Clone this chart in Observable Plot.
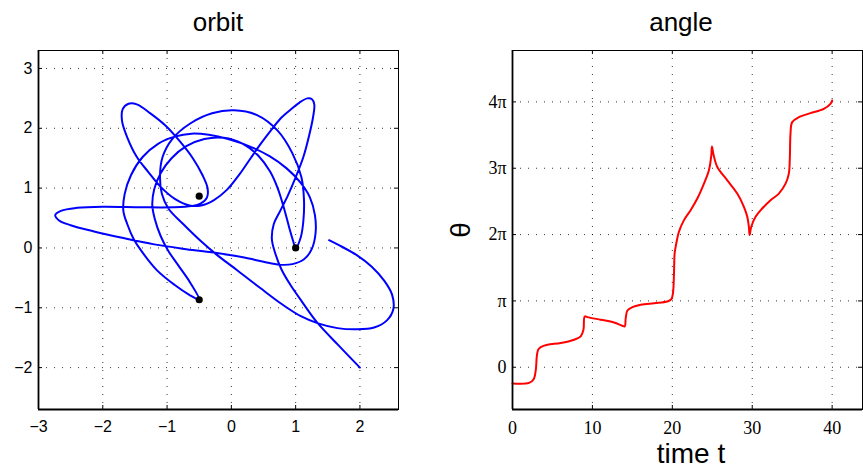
<!DOCTYPE html>
<html>
<head>
<meta charset="utf-8">
<script src="https://cdn.jsdelivr.net/npm/d3@7"></script>
<script src="https://cdn.jsdelivr.net/npm/@observablehq/plot@0.6"></script>
<style>
  body { margin: 0; background: #fff; }
  #root { position: relative; width: 863px; height: 468px; overflow: hidden; background: #fff; }
  .lbl { position: absolute; white-space: nowrap; color: #000; line-height: 1; }
</style>
</head>
<body>
<div id="root"></div>
<script>
// ---------- data ----------
const orbitXTicks = [-3, -2, -1, 0, 1, 2];
const orbitYTicks = [-2, -1, 0, 1, 2, 3];
const starX = [1, -0.5, -0.5];
const starY = [0, 0.866, -0.866];

// traced orbit (x, y) in drawing order, from (2,-2) to the end near (1.5, 0.13)
const orbit = [
  [2.00,-2.00],[1.66,-1.62],[1.33,-1.24],[1.10,-0.90],[0.92,-0.62],[0.78,-0.36],[0.68,-0.08],[0.63,0.15],
  [0.66,0.40],[0.76,0.62],[0.88,0.88],[1.00,1.18],[1.12,1.52],[1.21,1.88],[1.27,2.18],[1.29,2.40],
  [1.25,2.49],[1.18,2.50],[1.06,2.43],[0.92,2.31],[0.78,2.18],[0.64,2.00],[0.47,1.76],[0.30,1.50],
  [0.12,1.22],[-0.07,0.97],[-0.27,0.80],[-0.47,0.71],[-0.65,0.71],
  [-0.88,0.82],[-1.10,1.02],[-1.30,1.28],[-1.47,1.52],[-1.62,1.85],[-1.70,2.12],[-1.69,2.32],[-1.60,2.41],
  [-1.47,2.40],[-1.26,2.25],[-1.03,2.05],[-0.80,1.78],[-0.60,1.50],[-0.45,1.22],[-0.37,1.00],[-0.38,0.84],
  [-0.48,0.74],[-0.62,0.70],
  [-0.90,0.68],[-1.40,0.68],[-2.00,0.69],[-2.40,0.67],[-2.65,0.62],[-2.74,0.55],[-2.68,0.46],[-2.50,0.38],
  [-2.15,0.28],[-1.70,0.17],[-1.20,0.06],[-0.70,-0.02],[-0.20,-0.09],[0.20,-0.16],[0.50,-0.23],[0.75,-0.28],
  [0.95,-0.27],[1.13,-0.19],[1.25,-0.02],[1.31,0.25],[1.30,0.55],[1.22,0.85],[1.07,1.10],[0.86,1.33],
  [0.60,1.53],[0.30,1.69],[-0.05,1.82],[-0.35,1.89],[-0.62,1.91],[-0.88,1.86],[-1.14,1.74],[-1.38,1.52],
  [-1.56,1.22],[-1.66,0.90],[-1.68,0.62],[-1.62,0.40],[-1.52,0.15],[-1.40,-0.05],[-1.16,-0.37],[-0.88,-0.62],
  [-0.66,-0.78],[-0.50,-0.866],
  [-0.64,-0.58],[-0.82,-0.30],[-0.98,-0.05],[-1.10,0.20],[-1.19,0.48],[-1.23,0.72],[-1.20,0.98],[-1.10,1.25],
  [-0.93,1.50],[-0.70,1.70],[-0.42,1.82],[-0.12,1.84],[0.18,1.74],[0.42,1.54],[0.60,1.28],[0.72,1.00],
  [0.82,0.66],[0.90,0.34],[0.96,0.12],[1.00,0.00],
  [1.08,0.18],[1.12,0.45],[1.13,0.80],[1.09,1.18],[0.95,1.58],[0.72,1.96],[0.40,2.22],[0.04,2.30],
  [-0.30,2.25],[-0.64,2.08],[-0.92,1.82],[-1.07,1.52],[-1.11,1.20],[-1.08,0.90],[-0.98,0.66],[-0.75,0.40],
  [-0.48,0.12],[-0.22,-0.12],[0.10,-0.38],[0.45,-0.67],[0.80,-0.95],[1.08,-1.14],[1.35,-1.26],[1.65,-1.34],
  [1.95,-1.36],[2.22,-1.33],[2.42,-1.21],[2.52,-1.02],[2.50,-0.78],[2.38,-0.55],[2.18,-0.31],[1.95,-0.12],
  [1.72,0.02],[1.52,0.13]
];

const timeTicks = [0, 10, 20, 30, 40];
const angleTicks = [0, 1, 2, 3, 4];            // multiples of pi
const angleTickLabels = ["0", "π", "2π", "3π", "4π"];
const thetaT = [0, 2.08, 2.63, 2.92, 3.04, 3.21, 3.54, 4.38, 6.04, 7.71, 8.54, 8.88, 9.04, 9.38, 11.04, 12.71,
  13.75, 14.04, 14.17, 14.38, 15.0, 16.04, 17.71, 19.38, 19.88, 20.08, 20.21, 20.29, 20.46, 20.83, 21.46, 22.29,
  23.13, 23.96, 24.58, 24.88, 24.96, 25.13, 25.63, 26.88, 28.13, 28.96, 29.38, 29.58, 29.67, 29.88, 30.42, 31.25,
  32.29, 33.33, 34.17, 34.58, 34.71, 34.79, 35.0, 35.83, 37.29, 38.96, 39.79, 40.0];
const thetaPi = [-0.245, -0.235, -0.185, -0.035, 0.165, 0.265, 0.305, 0.34, 0.365, 0.415, 0.465, 0.566, 0.766, 0.756,
  0.716, 0.676, 0.626, 0.616, 0.741, 0.856, 0.906, 0.941, 0.966, 0.991, 1.026, 1.116, 1.417, 1.717, 1.842, 2.043,
  2.218, 2.368, 2.543, 2.768, 2.969, 3.194, 3.329, 3.219, 3.019, 2.818, 2.618, 2.418, 2.268, 2.118, 1.992, 2.118,
  2.268, 2.393, 2.518, 2.618, 2.768, 2.919, 3.169, 3.519, 3.695, 3.770, 3.830, 3.895, 3.970, 4.02];

// ---------- helpers ----------
const minus = d => (d < 0 ? "\u2212" + Math.abs(d) : String(d));
const root = document.getElementById("root");
function place(el, left, top) {
  el.style.position = "absolute";
  el.style.left = left + "px";
  el.style.top = top + "px";
  root.appendChild(el);
}
function label(text, css) {
  const d = document.createElement("div");
  d.className = "lbl";
  d.textContent = text;
  Object.assign(d.style, css);
  root.appendChild(d);
  return d;
}
const gridStyle = {stroke: "#000", strokeOpacity: 0.8, strokeWidth: 1, strokeDasharray: "1,7"};
const TL = 4; // tick length

// ---------- left: orbit ----------
{
  const W = 430, H = 468, mL = 38, mR = 32, mT = 50, mB = 59;
  const fw = W - mL - mR, fh = H - mT - mB;
  const xd = [-3, 2.6], yd = [-2.7, 3.3];
  const stars = starX.map((x, i) => ({x, y: starY[i]}));
  const svg = Plot.plot({
    width: W, height: H, marginLeft: mL, marginRight: mR, marginTop: mT, marginBottom: mB,
    style: {fontFamily: "'Liberation Sans', Arial, sans-serif", fontSize: "16px", background: "transparent", color: "#000", overflow: "visible"},
    x: {domain: xd, ticks: orbitXTicks, tickSize: 0, tickPadding: 11, tickFormat: minus, label: null},
    y: {domain: yd, ticks: orbitYTicks, tickSize: 0, tickPadding: 6, tickFormat: minus, label: null},
    marks: [
      Plot.ruleX(orbitXTicks, {x: d => d, ...gridStyle}),
      Plot.ruleY(orbitYTicks, {y: d => d, ...gridStyle}),
      Plot.line(orbit, {x: d => d[0], y: d => d[1], stroke: "#0000ff", strokeWidth: 2, curve: "catmull-rom"}),
      Plot.dot(stars, {x: "x", y: "y", r: 3.6, fill: "#000", stroke: "none"}),
      Plot.frame({stroke: "#000", strokeWidth: 1}),
      Plot.ruleX([xd[0]], {x: d => d, stroke: "#000", strokeWidth: 1.8}),
      Plot.ruleY([yd[0]], {y: d => d, stroke: "#000", strokeWidth: 1.8}),
      Plot.tickX(orbitXTicks, {x: d => d, insetTop: fh - TL, stroke: "#000"}),
      Plot.tickX(orbitXTicks, {x: d => d, insetBottom: fh - TL, stroke: "#000"}),
      Plot.tickY(orbitYTicks, {y: d => d, insetRight: fw - TL, stroke: "#000"}),
      Plot.tickY(orbitYTicks, {y: d => d, insetLeft: fw - TL, stroke: "#000"})
    ]
  });
  place(svg, 0, 0);
}

// ---------- right: angle ----------
{
  const W = 433, H = 468, mL = 82, mR = 1, mT = 50, mB = 59;
  const fw = W - mL - mR, fh = H - mT - mB;
  const xd = [0, 43.8], yd = [-2 / Math.PI, 15 / Math.PI];
  const theta = thetaT.map((t, i) => ({t, a: thetaPi[i]}));
  const svg = Plot.plot({
    width: W, height: H, marginLeft: mL, marginRight: mR, marginTop: mT, marginBottom: mB,
    style: {fontFamily: "'Liberation Serif', 'Times New Roman', serif", fontSize: "18px", background: "transparent", color: "#000", overflow: "visible"},
    x: {domain: xd, ticks: timeTicks, tickSize: 0, tickPadding: 12, tickFormat: d => String(d), label: null},
    y: {domain: yd, ticks: angleTicks, tickSize: 0, tickPadding: 6, tickFormat: d => angleTickLabels[angleTicks.indexOf(d)], label: null},
    marks: [
      Plot.ruleX(timeTicks, {x: d => d, ...gridStyle}),
      Plot.ruleY(angleTicks, {y: d => d, ...gridStyle}),
      Plot.line(theta, {x: "t", y: "a", stroke: "#ff0000", strokeWidth: 2, curve: "catmull-rom"}),
      Plot.frame({stroke: "#000", strokeWidth: 1}),
      Plot.ruleX([xd[0]], {x: d => d, stroke: "#000", strokeWidth: 1.8}),
      Plot.ruleY([yd[0]], {y: d => d, stroke: "#000", strokeWidth: 1.8}),
      Plot.tickX(timeTicks, {x: d => d, insetTop: fh - TL, stroke: "#000"}),
      Plot.tickX(timeTicks, {x: d => d, insetBottom: fh - TL, stroke: "#000"}),
      Plot.tickY(angleTicks, {y: d => d, insetRight: fw - TL, stroke: "#000"}),
      Plot.tickY(angleTicks, {y: d => d, insetLeft: fw - TL, stroke: "#000"})
    ]
  });
  place(svg, 430, 0);
}

// ---------- titles and axis labels ----------
const sans = "'Liberation Sans', Arial, sans-serif";
label("orbit", {left: "218px", top: "9px", transform: "translateX(-50%)", fontFamily: sans, fontSize: "26px"});
label("angle", {left: "681px", top: "9px", transform: "translateX(-50%)", fontFamily: sans, fontSize: "26px"});
label("time t", {left: "691px", top: "440px", transform: "translateX(-50%)", fontFamily: sans, fontSize: "28px"});
label("θ", {left: "461px", top: "230px", transform: "translate(-50%,-50%) rotate(-90deg)", fontFamily: sans, fontSize: "28px"});
</script>
</body>
</html>
